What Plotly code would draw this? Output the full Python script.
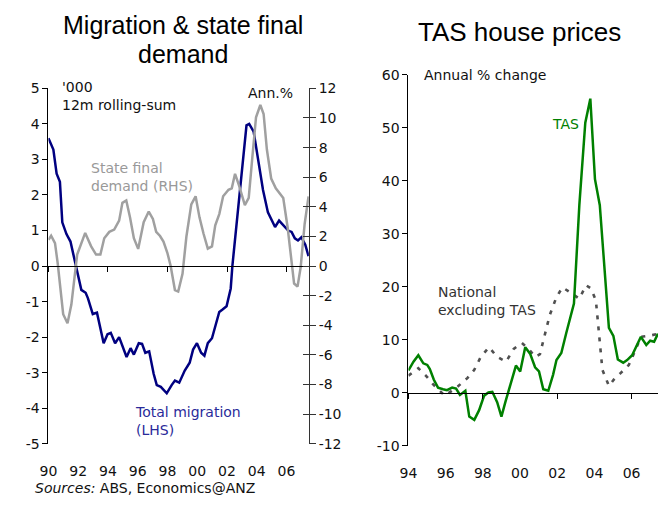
import plotly.graph_objects as go

W, H = 658, 506

# ---------------- data ----------------
mig_years = [1990.00, 1990.33, 1990.55, 1990.77, 1990.93, 1991.21, 1991.48, 1991.77, 1991.87,
             1992.21, 1992.50, 1992.65, 1992.98, 1993.26, 1993.71, 1993.97, 1994.19, 1994.48,
             1994.75, 1995.25, 1995.52, 1995.74, 1996.07, 1996.29, 1996.51, 1996.77, 1997.07,
             1997.28, 1997.55, 1997.95, 1998.28, 1998.50, 1998.79, 1999.16, 1999.49, 1999.72,
             1999.98, 2000.26, 2000.48, 2000.71, 2000.99, 2001.21, 2001.48, 2001.70, 2001.97,
             2002.25, 2002.36, 2003.31, 2003.49, 2003.79, 2004.08, 2004.42, 2004.75, 2004.97,
             2005.23, 2005.50, 2005.78, 2006.11, 2006.34, 2006.56, 2006.77, 2007.00, 2007.26,
             2007.48]
mig_vals = [3.6, 3.28, 2.6, 2.37, 1.23, 0.9, 0.69, 0.16, 0.0,
            -0.67, -0.75, -0.9, -1.35, -1.31, -2.17, -1.92, -1.88, -2.17,
            -2.0, -2.56, -2.31, -2.49, -2.17, -2.19, -2.44, -2.4, -3.03,
            -3.35, -3.4, -3.58, -3.35, -3.22, -3.28, -2.94, -2.72, -2.35,
            -2.17, -2.44, -2.52, -2.17, -2.03, -1.72, -1.29, -1.22, -1.13,
            -0.63, 0.0, 3.96, 4.0, 3.78, 3.05, 2.14, 1.51, 1.33,
            1.1, 1.28, 1.14, 1.0, 0.96, 0.78, 0.72, 0.81, 0.6,
            0.28]

sfd_years = [1990.00, 1990.18, 1990.44, 1990.62, 1990.99, 1991.28, 1991.54, 1991.77, 1991.93,
             1992.47, 1992.87, 1993.20, 1993.49, 1993.75, 1994.09, 1994.42, 1994.75, 1994.97,
             1995.23, 1995.48, 1995.74, 1996.03, 1996.40, 1996.74, 1997.02, 1997.24, 1997.50,
             1997.73, 1997.99, 1998.21, 1998.50, 1998.72, 1999.01, 1999.27, 1999.60, 1999.89,
             2000.15, 2000.42, 2000.71, 2000.99, 2001.21, 2001.48, 2001.74, 2002.10, 2002.32,
             2002.54, 2002.80, 2003.20, 2003.46, 2003.69, 2003.95, 2004.24, 2004.46, 2004.68,
             2004.97, 2005.28, 2005.56, 2005.78, 2006.07, 2006.34, 2006.51, 2006.74, 2006.95,
             2007.22, 2007.48]
sfd_vals = [1.77, 2.05, 1.55, 0.2, -3.25, -3.86, -2.6, -0.63, 0.78,
            2.24, 1.33, 0.78, 0.78, 1.88, 2.31, 2.46, 3.07, 4.27,
            4.43, 3.29, 1.88, 1.16, 2.96, 3.68, 3.18, 2.31, 2.03,
            1.65, 0.9, 0.02, -1.62, -1.72, -0.52, 1.98, 4.17, 4.71,
            3.29, 2.2, 1.18, 1.33, 2.75, 3.51, 4.71, 5.15, 5.25,
            6.23, 5.47, 4.12, 4.6, 7.21, 10.05, 10.88, 10.27, 7.87,
            5.91, 5.25, 4.89, 4.6, 2.64, 0.46, -1.18, -1.39, -0.08,
            2.86, 4.71]

tas_years = [1994.00, 1994.27, 1994.53, 1994.80, 1995.01, 1995.15, 1995.36, 1995.59, 1995.86,
             1996.07, 1996.35, 1996.56, 1996.77, 1997.06, 1997.27, 1997.54, 1997.80, 1998.07,
             1998.30, 1998.51, 1998.77, 1999.00, 1999.21, 1999.48, 1999.78, 2000.01, 2000.28,
             2000.54, 2000.81, 2001.02, 2001.25, 2001.52, 2001.78, 2001.96, 2002.22, 2002.49,
             2002.75, 2002.90, 2003.19, 2003.51, 2003.78, 2004.03, 2004.29, 2004.61, 2004.78,
             2005.02, 2005.26, 2005.55, 2005.76, 2006.03, 2006.25, 2006.50, 2006.79, 2007.00,
             2007.21, 2007.42]
tas_vals = [4.2, 5.85, 7.07, 5.54, 5.24, 4.45, 2.5, 0.97, 0.67,
            0.49, 0.97, 0.79, -0.43, 0.37, -4.51, -5.12, -3.29, -0.55,
            0.06, 0.18, -1.77, -4.51, -1.77, 1.28, 5.12, 4.02, 8.59,
            7.37, 4.81, 4.02, 0.67, 0.37, 3.42, 6.16, 7.5, 11.33,
            14.68, 16.82, 35.4, 50.95, 55.5, 40.3, 35.4, 18.96, 12.25,
            10.73, 6.27, 5.67, 6.16, 7.07, 8.59, 10.55, 9.01, 9.82,
            9.63, 11.15]

nat_years = [1994.00, 1994.53, 1994.97, 1995.33, 1995.77, 1995.95, 1996.21, 1996.65, 1997.18,
             1997.54, 1997.89, 1998.33, 1998.77, 1999.25, 1999.66, 2000.10, 2000.46, 2000.81,
             2001.07, 2001.34, 2001.60, 2001.96, 2002.28, 2002.75, 2003.19, 2003.55, 2003.81,
             2004.08, 2004.25, 2004.43, 2004.78, 2005.05, 2005.41, 2005.85, 2006.20, 2006.50,
             2006.91, 2007.26, 2007.42]
nat_vals = [3.23, 4.63, 3.1, 1.58, 0.06, -0.55, 0.06, 1.16, 2.8,
            4.33, 6.76, 8.59, 6.76, 5.85, 8.28, 9.38, 8.28, 6.76,
            7.26, 10.91, 14.68, 18.04, 19.87, 18.83, 17.73, 20.29, 19.69,
            17.42, 10.42, 4.33, 1.28, 2.5, 3.71, 5.24, 7.98, 10.55,
            10.73, 11.02, 11.1]

left_x_tickvals = [1990, 1992, 1994, 1996, 1998, 2000, 2002, 2004, 2006]
left_x_ticktext = ["90", "92", "94", "96", "98", "00", "02", "04", "06"]
left_x_marks = [1990, 1994, 1998, 2002, 2006]
lhs_tickvals = [-5, -4, -3, -2, -1, 0, 1, 2, 3, 4, 5]
lhs_ticktext = ["-5", "-4", "-3", "-2", "-1", "0", "1", "2", "3", "4", "5"]
rhs_tickvals = [-12, -10, -8, -6, -4, -2, 0, 2, 4, 6, 8, 10, 12]
rhs_ticktext = ["-12", "-10", "-8", "-6", "-4", "-2", "0", "2", "4", "6", "8", "10", "12"]

right_x_tickvals = [1994, 1996, 1998, 2000, 2002, 2004, 2006]
right_x_ticktext = ["94", "96", "98", "00", "02", "04", "06"]
right_x_marks = [1994, 1998, 2002, 2006]
hp_tickvals = [-10, 0, 10, 20, 30, 40, 50, 60]
hp_ticktext = ["-10", "0", "10", "20", "30", "40", "50", "60"]

# ---------------- layout helpers ----------------
def fx(px):
    return px / W


def fy(py):
    return 1 - py / H


FONT = "DejaVu Sans, Verdana, sans-serif"
TFONT = "Liberation Sans, Arial, sans-serif"
TXT = "#111111"
NAVY = "#000080"
GREY = "#a0a0a0"
GREEN = "#008000"
DOT = "#505050"

L_XDOM = [fx(40), fx(304)]
L_YDOM = [fy(450), fy(83)]
R_XDOM = [fx(405), 1.0]
R_YDOM = [fy(452), fy(69)]
L_YR = [-5, 5]
R_YR = [-10, 60]
L_XR = [1990, 2007.5]
R_XR = [1994, 2007.42]

zero_left = L_YDOM[0] + (0 - L_YR[0]) / (L_YR[1] - L_YR[0]) * (L_YDOM[1] - L_YDOM[0])
zero_right = R_YDOM[0] + (0 - R_YR[0]) / (R_YR[1] - R_YR[0]) * (R_YDOM[1] - R_YDOM[0])

fig = go.Figure()

fig.add_trace(go.Scatter(x=sfd_years, y=sfd_vals, mode="lines", xaxis="x", yaxis="y2",
                         line=dict(color=GREY, width=2.5), showlegend=False, hoverinfo="skip"))
fig.add_trace(go.Scatter(x=mig_years, y=mig_vals, mode="lines", xaxis="x", yaxis="y",
                         line=dict(color=NAVY, width=2.5), showlegend=False, hoverinfo="skip"))
fig.add_trace(go.Scatter(x=nat_years, y=nat_vals, mode="lines", xaxis="x2", yaxis="y3",
                         line=dict(color=DOT, width=2.6, dash="4px,7px"), showlegend=False,
                         hoverinfo="skip"))
fig.add_trace(go.Scatter(x=tas_years, y=tas_vals, mode="lines", xaxis="x2", yaxis="y3",
                         line=dict(color=GREEN, width=2.5), showlegend=False, hoverinfo="skip"))
# helper (empty) traces so the decorative axes get drawn
for xa, ya in [("x3", "y"), ("x", "y4"), ("x4", "y3")]:
    fig.add_trace(go.Scatter(x=[None], y=[None], xaxis=xa, yaxis=ya, mode="lines",
                             showlegend=False, hoverinfo="skip"))

tickfont = dict(family=FONT, size=14, color=TXT)

fig.update_layout(
    width=W, height=H,
    margin=dict(l=0, r=0, t=0, b=0),
    paper_bgcolor="white", plot_bgcolor="white",
    hovermode=False,
    xaxis=dict(domain=L_XDOM, range=L_XR, anchor="y", tickmode="array",
               tickvals=left_x_tickvals, ticktext=left_x_ticktext, showline=False,
               showgrid=False, zeroline=False, ticks="outside", ticklen=14,
               tickcolor="rgba(0,0,0,0)", tickfont=tickfont),
    xaxis3=dict(overlaying="x", anchor="free", position=zero_left, range=L_XR,
                tickmode="array", tickvals=left_x_marks, showticklabels=False,
                showline=True, linecolor="#000000", linewidth=1, ticks="outside",
                ticklen=5, tickcolor="#000000", showgrid=False, zeroline=False),
    yaxis=dict(domain=L_YDOM, range=L_YR, anchor="x", tickmode="array",
               tickvals=lhs_tickvals, ticktext=lhs_ticktext, showline=True,
               linecolor="#000000", linewidth=1, ticks="outside", ticklen=5,
               tickcolor="#000000", showgrid=False, zeroline=False, tickfont=tickfont),
    yaxis2=dict(overlaying="y", side="right", anchor="x", range=[-12, 12], tickmode="array",
                tickvals=rhs_tickvals, ticktext=rhs_ticktext, showline=True,
                linecolor="#333333", linewidth=1, ticks="outside", ticklen=6,
                tickcolor="#333333", showgrid=False, zeroline=False, tickfont=tickfont),
    yaxis4=dict(overlaying="y", side="right", anchor="x", range=[-12, 12], tickmode="array",
                tickvals=rhs_tickvals, showticklabels=False, showline=False, ticks="inside",
                ticklen=6, tickcolor="#333333", showgrid=False, zeroline=False),
    xaxis2=dict(domain=R_XDOM, range=R_XR, anchor="y3", tickmode="array",
                tickvals=right_x_tickvals, ticktext=right_x_ticktext, showline=False,
                showgrid=False, zeroline=False, ticks="outside", ticklen=14,
                tickcolor="rgba(0,0,0,0)", tickfont=tickfont),
    xaxis4=dict(overlaying="x2", anchor="free", position=zero_right, range=R_XR,
                tickmode="array", tickvals=right_x_marks, showticklabels=False,
                showline=True, linecolor="#000000", linewidth=1, ticks="outside",
                ticklen=5, tickcolor="#000000", showgrid=False, zeroline=False),
    yaxis3=dict(domain=R_YDOM, range=R_YR, anchor="x2", tickmode="array",
                tickvals=hp_tickvals, ticktext=hp_ticktext, showline=True,
                linecolor="#000000", linewidth=1, ticks="outside", ticklen=5,
                tickcolor="#000000", showgrid=False, zeroline=False, tickfont=tickfont),
)


def note(text, px, py, color=TXT, size=14, family=FONT, xanchor="left", align="left"):
    fig.add_annotation(text=text, x=fx(px), y=fy(py), xref="paper", yref="paper",
                       xanchor=xanchor, yanchor="middle", align=align, showarrow=False,
                       font=dict(family=family, size=size, color=color))


# two-line title: base size sets the line spacing, span sets glyph size
note('<span style="font-size:25px">Migration &amp; state final</span><br>'
     '<span style="font-size:25px">demand</span>', 176, 33, color="#000000", size=22,
     family=TFONT, xanchor="center", align="center")
note("TAS house prices", 518, 25, color="#000000", size=26, family=TFONT,
     xanchor="center", align="center")

note("'000<br>12m rolling-sum", 52, 91)
note("Ann.%", 240, 88)
note("State final<br>demand (RHS)", 81, 175, color="#999999")
note("Total migration<br>(LHS)", 126, 427, color="#2a2a9a")
note("Annual % change", 419, 69)
note("TAS", 548, 120, color=GREEN)
note("National<br>excluding TAS", 433, 303, color="#333333")
note("<i>Sources:</i> ABS, Economics@ANZ", 24, 496)

fig.write_html(
    "out.html",
    config={"displayModeBar": False, "staticPlot": True},
    post_script="document.body.style.margin='0';document.body.style.overflow='hidden';",
)
